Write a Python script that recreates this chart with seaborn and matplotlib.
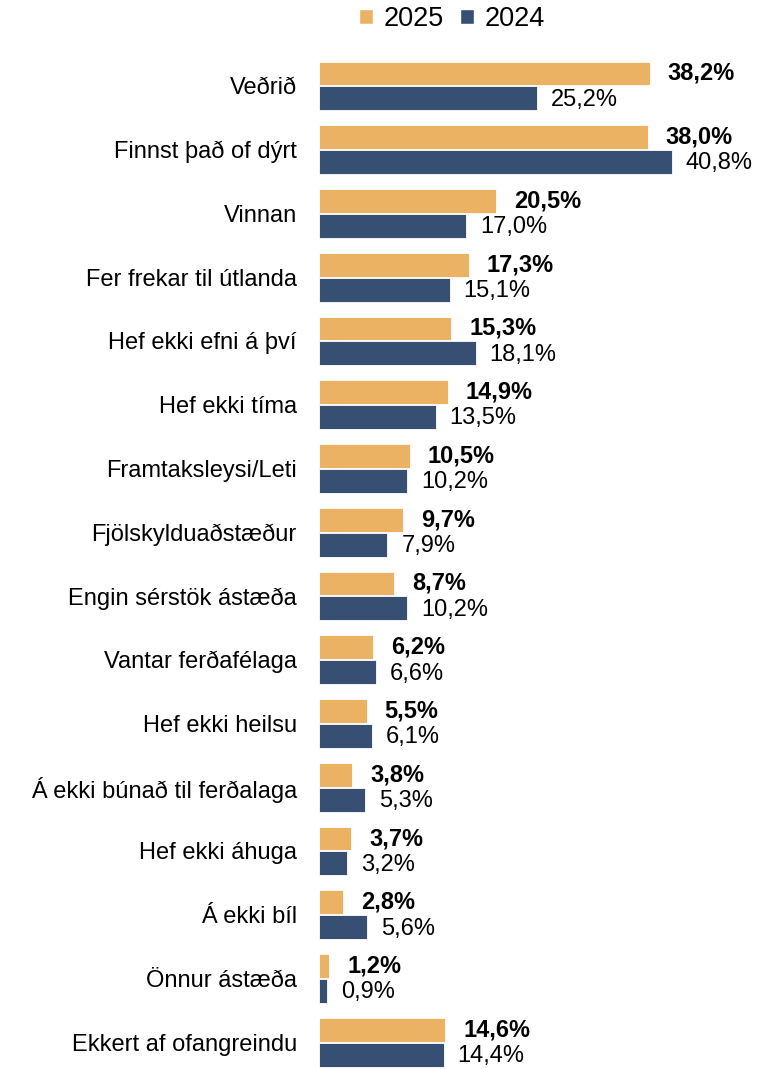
import pandas as pd
import seaborn as sns
import matplotlib.pyplot as plt
from matplotlib.patches import Patch

categories = ["Veðrið", "Finnst það of dýrt", "Vinnan", "Fer frekar til útlanda",
              "Hef ekki efni á því", "Hef ekki tíma", "Framtaksleysi/Leti",
              "Fjölskylduaðstæður", "Engin sérstök ástæða", "Vantar ferðafélaga",
              "Hef ekki heilsu", "Á ekki búnað til ferðalaga", "Hef ekki áhuga",
              "Á ekki bíl", "Önnur ástæða", "Ekkert af ofangreindu"]
vals_2025 = [38.2, 38.0, 20.5, 17.3, 15.3, 14.9, 10.5, 9.7, 8.7, 6.2, 5.5, 3.8, 3.7, 2.8, 1.2, 14.6]
vals_2024 = [25.2, 40.8, 17.0, 15.1, 18.1, 13.5, 10.2, 7.9, 10.2, 6.6, 6.1, 5.3, 3.2, 5.6, 0.9, 14.4]
years = ["2025", "2024"]
colors = {"2025": "#EBB264", "2024": "#374F72"}

df = pd.concat([
    pd.DataFrame({"cat": categories, "year": "2025", "val": vals_2025}),
    pd.DataFrame({"cat": categories, "year": "2024", "val": vals_2024}),
], ignore_index=True)

sns.set_style("white")
plt.rcParams["font.family"] = ["Liberation Sans", "DejaVu Sans"]
plt.rcParams["text.color"] = "black"
plt.rcParams["ytick.color"] = "black"

fig = plt.figure(figsize=(7.77, 10.69), dpi=100)
ax = fig.add_axes([319 / 777, 0, 450 / 777, (1069 - 54) / 1069])

sns.barplot(data=df, y="cat", x="val", hue="year", hue_order=years, order=categories,
            palette=colors, saturation=1, orient="h", width=0.78, gap=0.04, ax=ax,
            edgecolor="white", linewidth=0.6, legend=False)

ax.set_xlim(0, 52)
ax.set_ylim(15.42, -0.5)

for cont, yr in zip(ax.containers, years):
    bold = yr == "2025"
    for bar in cont:
        w = bar.get_width()
        ax.annotate(f"{w:.1f}%".replace(".", ","),
                    (w, bar.get_y() + bar.get_height() / 2),
                    xytext=(13 if bold else 10, 0 if bold else -1), textcoords="offset points",
                    ha="left", va="center", fontsize=17,
                    fontweight="bold" if bold else "normal", color="black")

ax.set_xlabel("")
ax.set_ylabel("")
ax.set_xticks([])
ax.tick_params(axis="y", length=0, pad=16, labelsize=17, labelcolor="black")
for s in ax.spines.values():
    s.set_visible(False)

handles = [Patch(facecolor=colors[y], label=y) for y in years]
fig.legend(handles=handles, loc="center", bbox_to_anchor=(0.582, 0.982), ncol=2,
           frameon=False, fontsize=19.5, handlelength=0.5, handleheight=0.5,
           handletextpad=0.4, columnspacing=0.6)

plt.savefig("out.png", dpi=100)
